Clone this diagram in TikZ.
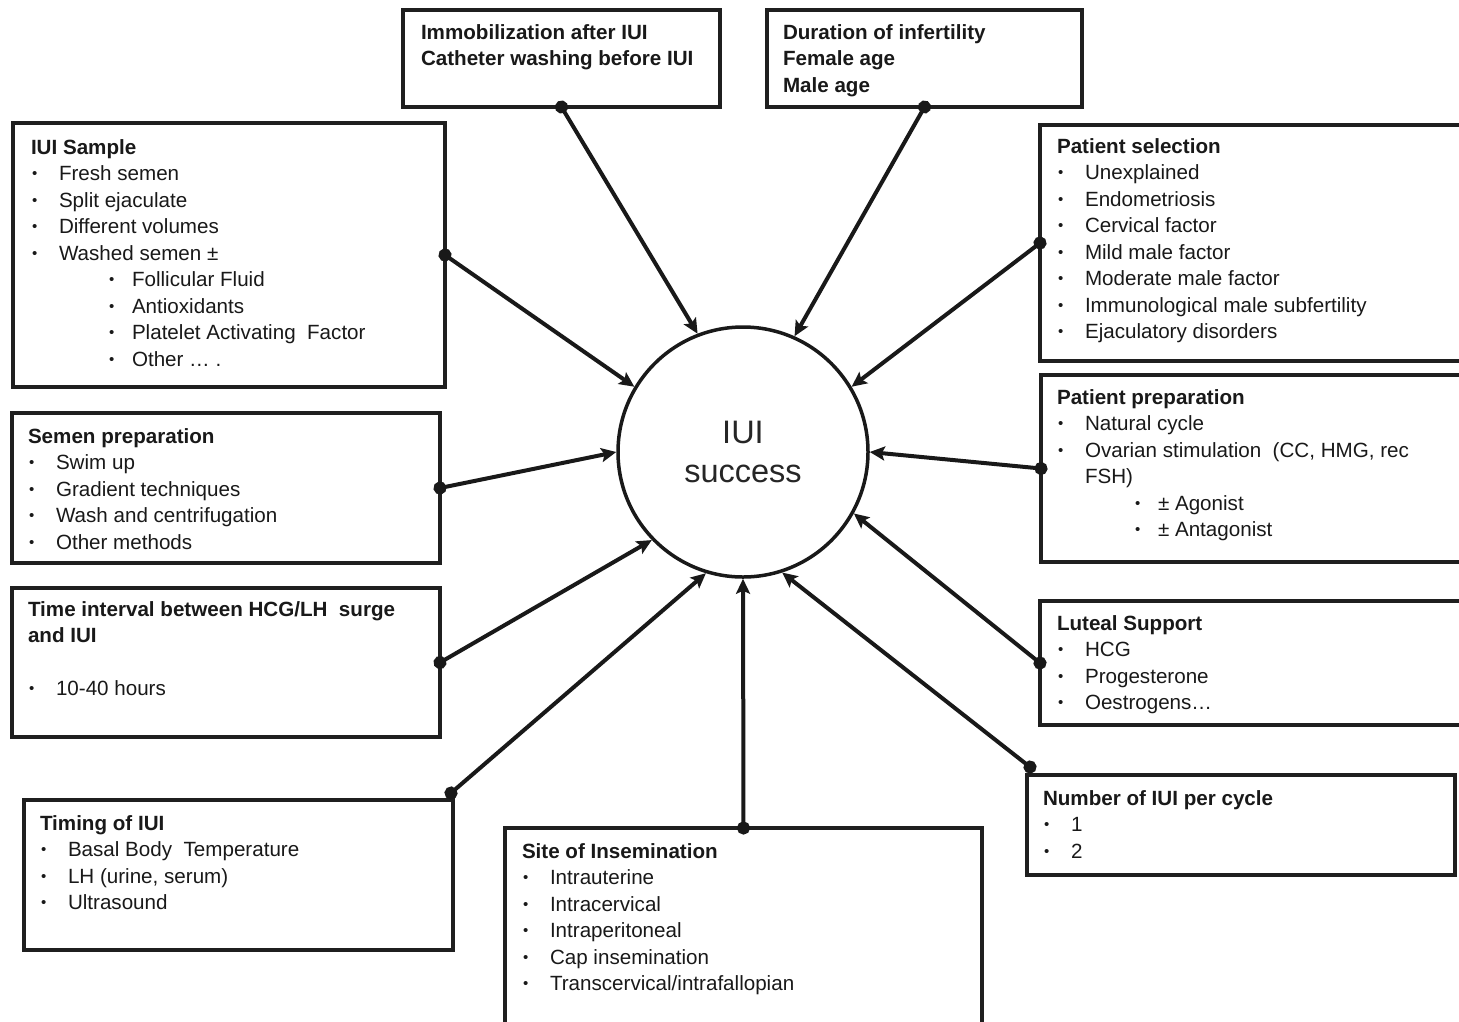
\documentclass[tikz,border=0pt]{standalone}
\usepackage{fontspec}
\setmainfont{Liberation Sans}
\usetikzlibrary{arrows.meta}
\newcommand\smbul{\raisebox{2pt}{\fontsize{15}{15}\selectfont\textbullet}}
\newcommand\bi[1]{\makebox[28pt][l]{\hspace*{1pt}\smbul}#1}
\newcommand\sbi[1]{\hspace*{77pt}\makebox[24pt][l]{\hspace*{1pt}\smbul}#1}
\newcommand\pb[1]{\parbox[t]{420pt}{\raggedright #1}}
\begin{document}
\begin{tikzpicture}[x=1pt,y=-1pt,
  box/.style={draw=black!88,line width=4pt,rectangle,anchor=north west,inner sep=0,outer sep=0},
  txt/.style={anchor=base west,inner sep=0,outer sep=0,text=black!90,font=\fontsize{20.6}{26.5}\selectfont},
  conn/.style={draw=black!90,line width=4pt,shorten <=-6.5pt,{Circle[length=13pt]}-{Stealth[length=15pt,width=14pt,inset=3pt]}}]
\useasboundingbox (0,0) rectangle (1459,1021);
\clip (0,0) rectangle (1459,1021);
\fill[white] (0,0) rectangle (1459,1021);
% boxes
\node[box,minimum width=317pt,minimum height=97pt] (imm) at (403,10) {};
\node[box,minimum width=315pt,minimum height=97pt] (dur) at (767,10) {};
\node[box,minimum width=432pt,minimum height=264pt] (samp) at (13,123) {};
\node[box,minimum width=435pt,minimum height=236pt] (sel) at (1040,125) {};
\node[box,minimum width=428pt,minimum height=150pt] (sem) at (12,413) {};
\node[box,minimum width=434pt,minimum height=187pt] (prep) at (1041,375) {};
\node[box,minimum width=428pt,minimum height=149pt] (time) at (12,588) {};
\node[box,minimum width=435pt,minimum height=124pt] (lut) at (1040,601) {};
\node[box,minimum width=429pt,minimum height=150pt] (timing) at (24,800) {};
\node[box,minimum width=428pt,minimum height=100pt] (num) at (1027,775) {};
\node[box,minimum width=477pt,minimum height=202pt] (site) at (505,828) {};
% centre
\node[circle,draw=black!90,line width=3.5pt,minimum size=250pt,inner sep=0,align=center,
  font=\fontsize{32.5}{39}\selectfont,text=black!85] (c) at (743,452) {IUI\\success};
% texts
\node[txt] (immT) at (421,39) {\pb{\textbf{Immobilization after IUI}\\\textbf{Catheter washing before IUI}}};
\node[txt] (durT) at (783,39) {\pb{\textbf{Duration of infertility}\\\textbf{Female age}\\\textbf{Male age}}};
\node[txt] (sampT) at (31,154) {\pb{\textbf{IUI Sample}\\\bi{Fresh semen}\\\bi{Split ejaculate}\\\bi{Different volumes}\\\bi{Washed semen ±}\\\sbi{Follicular Fluid}\\\sbi{Antioxidants}\\\sbi{Platelet Activating\ \ Factor}\\\sbi{Other … .}}};
\node[txt] (selT) at (1057,153) {\pb{\textbf{Patient selection}\\\bi{Unexplained}\\\bi{Endometriosis}\\\bi{Cervical factor}\\\bi{Mild male factor}\\\bi{Moderate male factor}\\\bi{Immunological male subfertility}\\\bi{Ejaculatory disorders}}};
\node[txt] (semT) at (28,443) {\pb{\textbf{Semen preparation}\\\bi{Swim up}\\\bi{Gradient techniques}\\\bi{Wash and centrifugation}\\\bi{Other methods}}};
\node[txt] (prepT) at (1057,404) {\pb{\textbf{Patient preparation}\\\bi{Natural cycle}\\\bi{Ovarian stimulation\ \ (CC, HMG, rec}\\\hspace*{28pt}FSH)\\\sbi{± Agonist}\\\sbi{± Antagonist}}};
\node[txt] (timeT) at (28,616) {\pb{\textbf{Time interval between HCG/LH\ \ surge}\\\textbf{and IUI}\\\mbox{}\\\bi{10-40 hours}}};
\node[txt] (lutT) at (1057,630) {\pb{\textbf{Luteal Support}\\\bi{HCG}\\\bi{Progesterone}\\\bi{Oestrogens…}}};
\node[txt] (timingT) at (40,830) {\pb{\textbf{Timing of IUI}\\\bi{Basal Body\ \ Temperature}\\\bi{LH (urine, serum)}\\\bi{Ultrasound}}};
\node[txt] (numT) at (1043,805) {\pb{\textbf{Number of IUI per cycle}\\\bi{1}\\\bi{2}}};
\node[txt] (siteT) at (522,858) {\pb{\textbf{Site of Insemination}\\\bi{Intrauterine}\\\bi{Intracervical}\\\bi{Intraperitoneal}\\\bi{Cap insemination}\\\bi{Transcervical/intrafallopian}}};
% connectors
\draw[conn] (imm.south) -- (c.111);
\draw[conn] (dur.south) -- (c.66.6);
\draw[conn] (samp.east) -- (c.149);
\draw[conn] (sel.west) -- (c.31);
\draw[conn] (sem.east) -- (c.180);
\draw[conn] (prep.west) -- (c.0);
\draw[conn] (time.east) -- (c.224);
\draw[conn] (lut.west) -- (c.-29);
\draw[conn] ([xshift=-2pt,yshift=7pt]timing.north east) -- (c.-107);
\draw[conn] ([xshift=3pt,yshift=8pt]num.north west) -- (c.-72);
\draw[conn] (site.north) -- (c.-90);
\end{tikzpicture}
\end{document}
